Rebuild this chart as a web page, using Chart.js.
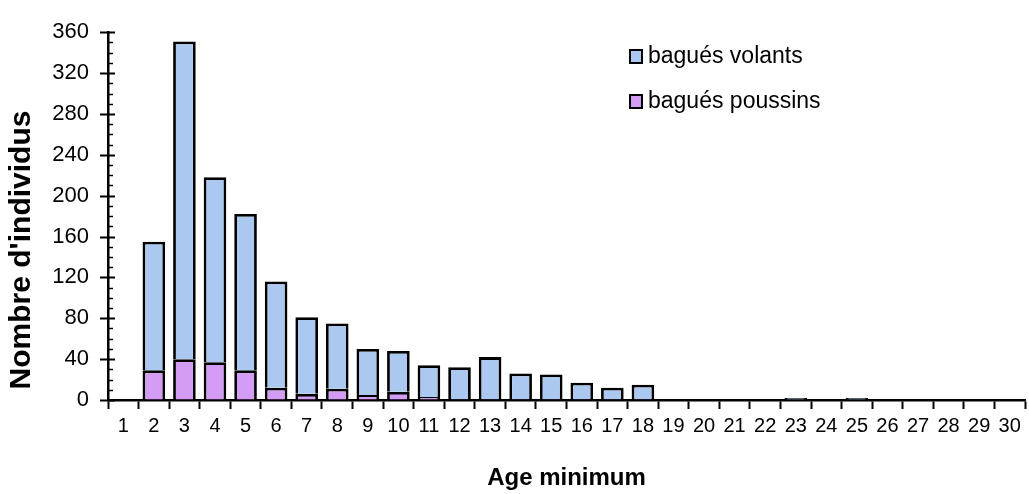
<!DOCTYPE html>
<html>
<head>
<meta charset="utf-8">
<script src="https://cdn.jsdelivr.net/npm/chart.js@4"></script>
<style>
  body { margin: 0; background: #fff; }
  #box { width: 1029px; height: 494px; position: relative; }
</style>
</head>
<body>
<div id="box"><canvas id="graphique"></canvas></div>
<script>
// Données
const ages = ['1','2','3','4','5','6','7','8','9','10','11','12','13','14','15',
              '16','17','18','19','20','21','22','23','24','25','26','27','28','29','30'];
const poussins = [0, 29, 40, 37, 29, 12, 6, 11, 5, 8, 3, 1, 1, 1, 1, 1, 1, 1, 0, 0, 0, 0, 0, 0, 0, 0, 0, 0, 0, 0];
const volants  = [0, 126, 311, 181, 153, 104, 75, 64, 45, 40, 31, 31, 41, 25, 24, 16, 11, 14, 0, 0, 0, 0, 2, 0, 2, 0, 0, 0, 0, 0];
const yMax = 360;
const titreY = "Nombre d'individus";

const police = '"Liberation Sans", Arial, sans-serif';
Chart.defaults.color = '#000';
Chart.defaults.font.family = police;

// Petites graduations de l'axe vertical, titre vertical et légende dans la zone du graphique
const decor = {
    id: 'decor',
    afterDraw(chart) {
        const ctx = chart.ctx;
        const y = chart.scales.y;
        const x0 = chart.chartArea.left;
        ctx.save();
        ctx.strokeStyle = '#000';
        for (let v = 0; v <= yMax; v += 10) {
            const py = Math.round(y.getPixelForValue(v)) + 0.5;
            ctx.beginPath();
            if (v % 40 === 0) {
                ctx.lineWidth = 2;
                ctx.moveTo(x0 - 8, py);
                ctx.lineTo(x0 + 7, py);
            } else {
                ctx.lineWidth = 1.5;
                ctx.moveTo(x0, py);
                ctx.lineTo(x0 + 5, py);
            }
            ctx.stroke();
        }

        // titre de l'axe vertical
        ctx.save();
        ctx.translate(22, 250);
        ctx.rotate(-Math.PI / 2);
        ctx.font = 'bold 30px ' + police;
        ctx.textAlign = 'center';
        ctx.textBaseline = 'middle';
        ctx.fillStyle = '#000';
        ctx.fillText(titreY, 0, 0);
        ctx.restore();

        // légende : volants en haut, poussins en dessous
        const ordre = [1, 0];
        const lignes = [57, 102];
        ctx.font = '23px ' + police;
        ctx.textBaseline = 'middle';
        ordre.forEach((i, k) => {
            const ds = chart.data.datasets[i];
            const cy = lignes[k];
            ctx.fillStyle = ds.backgroundColor;
            ctx.fillRect(630, cy - 7, 12, 13);
            ctx.lineWidth = 2;
            ctx.strokeStyle = '#000';
            ctx.strokeRect(630, cy - 7, 12, 13);
            ctx.fillStyle = '#000';
            ctx.fillText(ds.label, 648, cy);
        });
        ctx.restore();
    }
};

new Chart(document.getElementById('graphique'), {
    type: 'bar',
    data: {
        labels: ages,
        datasets: [
            {
                label: 'bagués poussins',
                data: poussins,
                backgroundColor: '#d49cf4',
                borderColor: '#000',
                borderWidth: 2.8,
                barPercentage: 0.74,
                categoryPercentage: 1
            },
            {
                label: 'bagués volants',
                data: volants,
                backgroundColor: '#abc9f0',
                borderColor: '#000',
                borderWidth: 2.8,
                barPercentage: 0.74,
                categoryPercentage: 1
            }
        ]
    },
    options: {
        responsive: true,
        maintainAspectRatio: false,
        animation: false,
        layout: { padding: { top: 25, right: 4, left: 0, bottom: 0 } },
        plugins: {
            legend: { display: false },
            tooltip: { enabled: false }
        },
        scales: {
            x: {
                stacked: true,
                afterFit: (s) => { s.height = 94; },
                grid: {
                    offset: true,
                    drawOnChartArea: false,
                    tickLength: 9,
                    tickWidth: 2,
                    tickColor: '#000'
                },
                border: { color: '#000', width: 2.5 },
                ticks: {
                    font: { size: 20 },
                    padding: 5,
                    maxRotation: 0,
                    autoSkip: false
                },
                title: {
                    display: true,
                    text: 'Age minimum',
                    font: { size: 24, weight: 'bold' },
                    padding: { top: 0, bottom: 1 }
                }
            },
            y: {
                stacked: true,
                min: 0,
                max: yMax,
                afterFit: (s) => { s.width = 108; },
                grid: {
                    drawOnChartArea: false,
                    drawTicks: false
                },
                border: { color: '#000', width: 2.5 },
                ticks: {
                    stepSize: 10,
                    autoSkip: false,
                    font: { size: 22 },
                    padding: 19,
                    callback: (v) => (v % 40 === 0 ? v : '')
                }
            }
        }
    },
    plugins: [decor]
});
</script>
</body>
</html>
